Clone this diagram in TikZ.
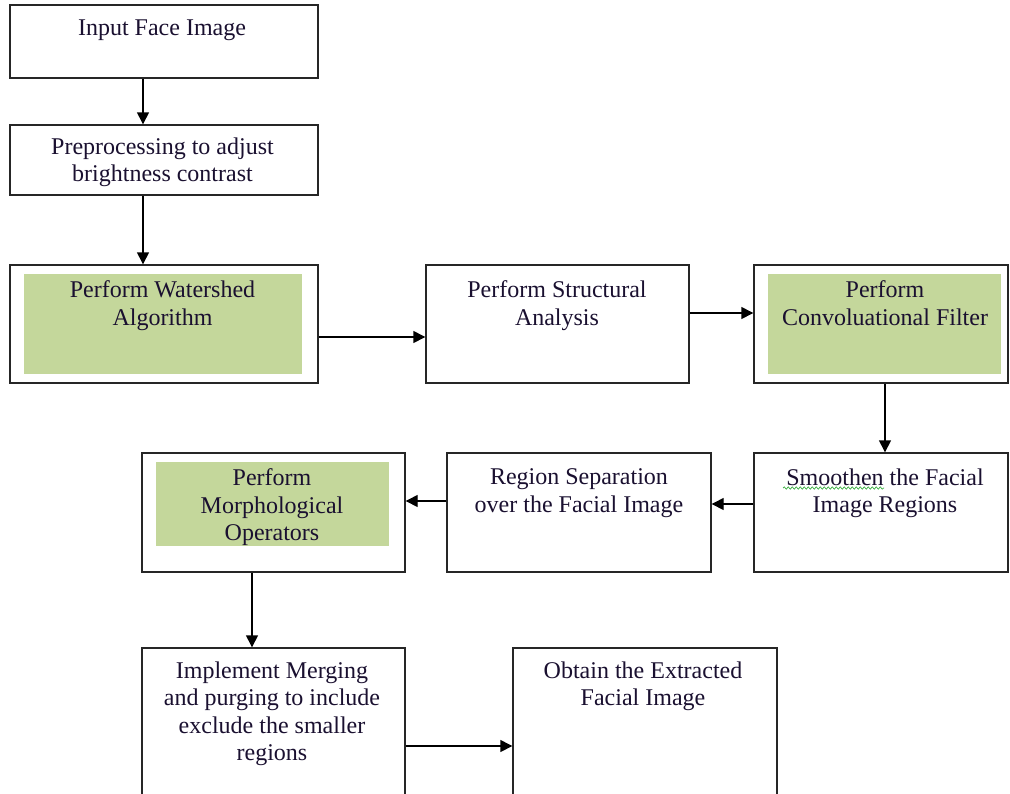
\documentclass[tikz,border=0pt]{standalone}
\usepackage{fontspec}
\setmainfont{Liberation Serif}
\usetikzlibrary{arrows.meta,decorations.pathmorphing}
\definecolor{boxgreen}{HTML}{C4D79B}
\definecolor{squig}{HTML}{3CB043}
\definecolor{txt}{HTML}{1A1030}
\begin{document}
\begin{tikzpicture}[x=1pt,y=-1pt,
  box/.style={draw=black!85,line width=1.4pt,minimum width=#1,inner sep=0pt},
  greenfill/.style={fill=boxgreen,draw=none,inner sep=0pt},
  lbl/.style={anchor=north,align=center,inner sep=0pt,text=txt,font=\fontsize{24}{27.5}\selectfont},
  arr/.style={line width=1.4pt,-{Triangle[length=12pt,width=12pt]}}]
\clip (0,0) rectangle (1010,793);
\fill[white] (0,0) rectangle (1010,793);
% boxes
\node[box=308pt,minimum height=73pt] (b1) at (164,41.5) {};
\node[box=308pt,minimum height=70pt] (b2) at (164,160) {};
\node[box=308pt,minimum height=118pt] (b3) at (164,324) {};
\node[greenfill,minimum width=278pt,minimum height=100pt] (g3) at (163,324) {};
\node[box=263pt,minimum height=118pt] (b4) at (557.5,324) {};
\node[box=254pt,minimum height=118pt] (b5) at (881,324) {};
\node[greenfill,minimum width=233pt,minimum height=100pt] (g5) at (884.5,324) {};
\node[box=254pt,minimum height=119pt] (b6) at (881,512.5) {};
\node[box=264pt,minimum height=119pt] (b7) at (579,512.5) {};
\node[box=263pt,minimum height=119pt] (b8) at (273.5,512.5) {};
\node[greenfill,minimum width=233pt,minimum height=84pt] (g8) at (272.5,504) {};
\node[box=263pt,minimum height=152pt] (b9) at (273.5,724) {};
\node[box=264pt,minimum height=152pt] (b10) at (645,724) {};
% texts
\node[lbl] (t1) at (162,19.5) {Input Face Image};
\node[lbl] (t2) at (162.5,137.5) {Preprocessing to adjust\\brightness contrast};
\node[lbl] (t3) at (162.5,280.5) {Perform Watershed\\Algorithm};
\node[lbl] (t4) at (557,280.5) {Perform Structural\\Analysis};
\node[lbl] (t5) at (885,280.5) {Perform\\Convoluational Filter};
\node[lbl] (t6) at (885,468.5) {Smoothen the Facial\\Image Regions};
\node[lbl] (t7) at (579,468.5) {Region Separation\\over the Facial Image};
\node[lbl] (t8) at (272,468.5) {Perform\\Morphological\\Operators};
\node[lbl] (t9) at (272,661.5) {Implement Merging\\and purging to include\\exclude the smaller\\regions};
\node[lbl] (t10) at (643,661.5) {Obtain the Extracted\\Facial Image};
% spell-check squiggle
\coordinate (sq1) at (783,488);
\coordinate (sq2) at (884,488);
\draw[squig,line width=0.7pt,decorate,decoration={snake,amplitude=1.2pt,segment length=4pt}] (sq1) -- (sq2);
% connector guides
\coordinate (x143) at (143,0);
\coordinate (x885) at (885,0);
\coordinate (x252) at (252,0);
\coordinate (y337) at (0,337);
\coordinate (y313) at (0,313);
\coordinate (y504) at (0,504);
\coordinate (y501) at (0,501);
\coordinate (y746) at (0,746);
% connectors
\draw[arr] (b1.south -| x143) -- (b2.north -| x143);
\draw[arr] (b2.south -| x143) -- (b3.north -| x143);
\draw[arr] (b3.east |- y337) -- (b4.west |- y337);
\draw[arr] (b4.east |- y313) -- (b5.west |- y313);
\draw[arr] (b5.south -| x885) -- (b6.north -| x885);
\draw[arr] (b6.west |- y504) -- (b7.east |- y504);
\draw[arr] (b7.west |- y501) -- (b8.east |- y501);
\draw[arr] (b8.south -| x252) -- (b9.north -| x252);
\draw[arr] (b9.east |- y746) -- (b10.west |- y746);
\end{tikzpicture}
\end{document}
